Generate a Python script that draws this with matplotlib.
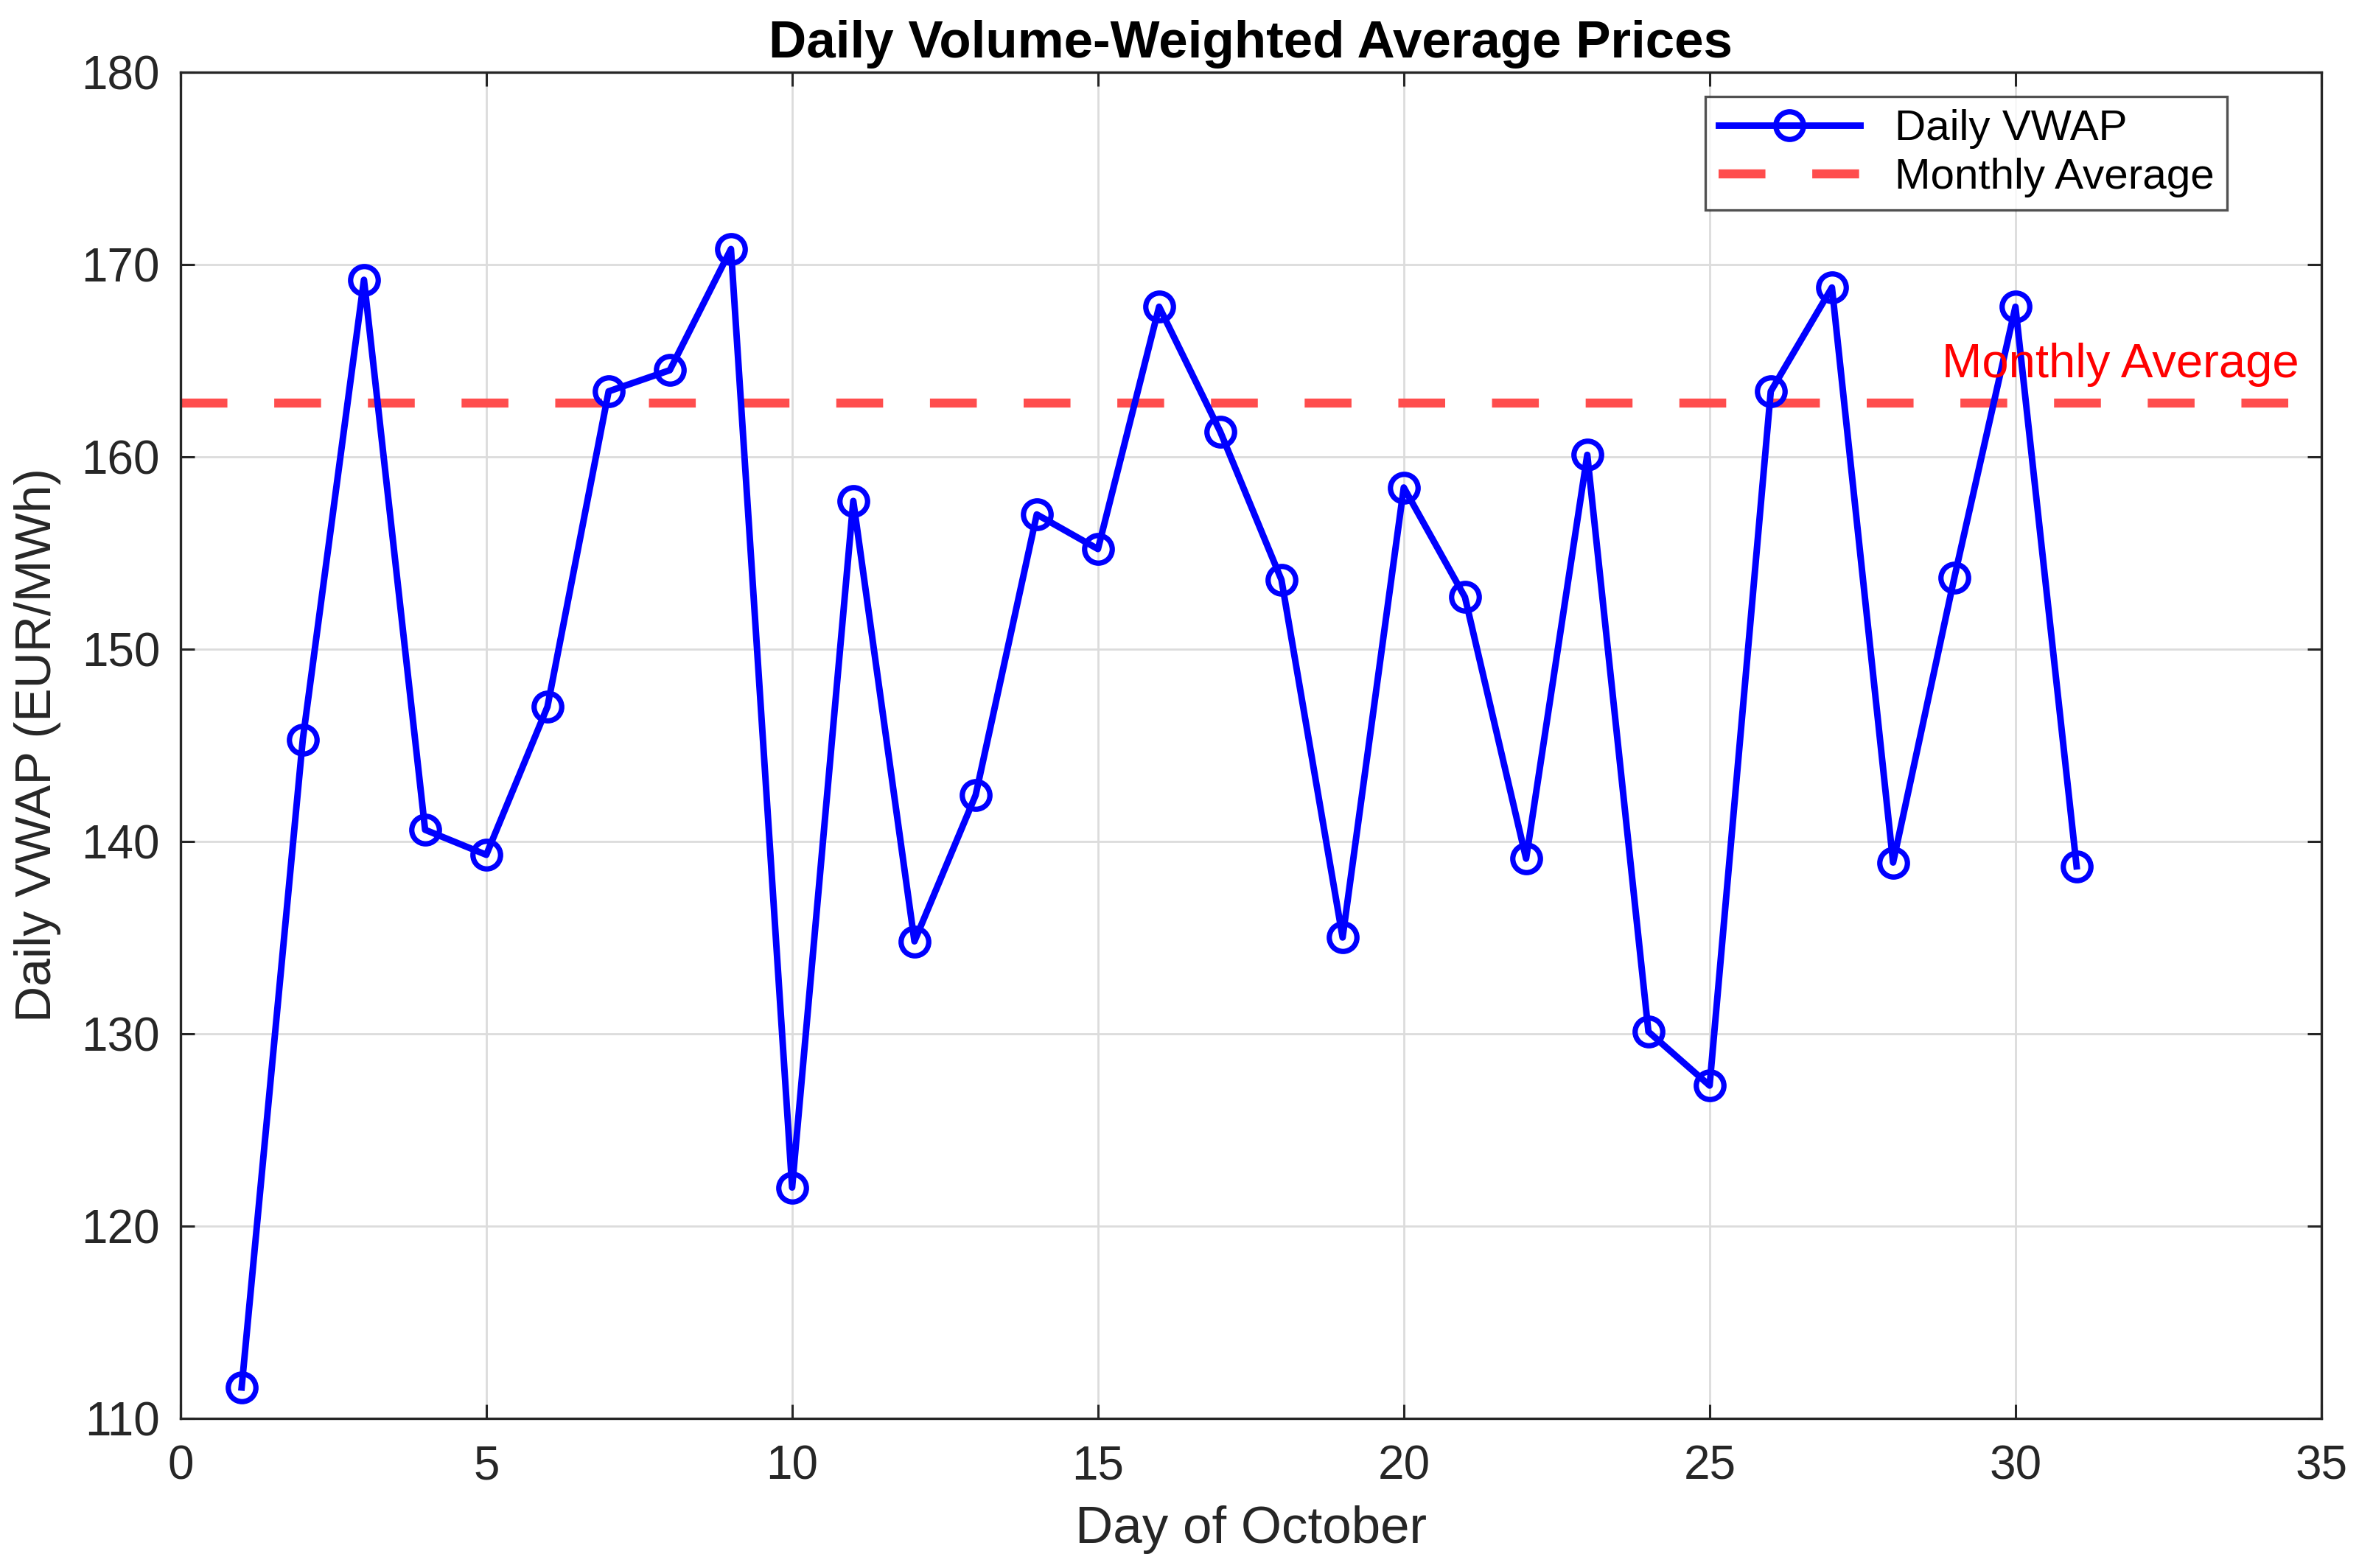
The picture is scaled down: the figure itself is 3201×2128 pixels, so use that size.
import matplotlib
matplotlib.use("Agg")
import matplotlib.pyplot as plt

plt.rcParams["font.family"] = ["Liberation Sans", "DejaVu Sans"]

# values
days = list(range(1, 32))
vwap = [
    111.6, 145.3, 169.2, 140.6, 139.3, 147.0, 163.4, 164.5, 170.8, 122.0,
    157.7, 134.8, 142.4, 157.0, 155.2, 167.8, 161.3, 153.6, 135.0, 158.4,
    152.7, 139.1, 160.1, 130.1, 127.3, 163.4, 168.8, 138.9, 153.7, 167.8,
    138.7,
]
monthly_avg = 162.8

x_ticks = [0, 5, 10, 15, 20, 25, 30, 35]
y_ticks = [110, 120, 130, 140, 150, 160, 170, 180]

BLUE = "#0000FF"
AVG_RED = "#FF4D4D"
AXIS = "#262626"


def main():
    fig = plt.figure(figsize=(16.005, 10.64), dpi=200)
    fig.patch.set_facecolor("white")
    ax = fig.add_axes([0.0765, 0.0955, 0.9075, 0.8585])

    ax.plot(
        days,
        vwap,
        color=BLUE,
        linewidth=3.2,
        marker="o",
        markersize=13.5,
        markerfacecolor="none",
        markeredgecolor=BLUE,
        markeredgewidth=2.6,
        label="Daily VWAP",
        zorder=3,
    )
    ax.axhline(
        monthly_avg,
        color=AVG_RED,
        linewidth=4.4,
        linestyle=(0, (5.2, 5.2)),
        label="Monthly Average",
        zorder=2,
    )
    ax.text(
        28.8,
        monthly_avg + 2.0,
        "Monthly Average",
        color="red",
        fontsize=23.5,
        ha="left",
        va="center",
        zorder=4,
    )

    ax.set_xlim(0, 35)
    ax.set_ylim(110, 180)
    ax.set_xticks(x_ticks)
    ax.set_yticks(y_ticks)
    ax.tick_params(
        direction="in",
        length=7,
        width=1.1,
        color=AXIS,
        labelsize=23,
        labelcolor=AXIS,
        top=True,
        right=True,
    )
    ax.tick_params(axis="x", pad=13)
    ax.tick_params(axis="y", pad=10)
    for spine in ax.spines.values():
        spine.set_color(AXIS)
        spine.set_linewidth(1.2)

    ax.grid(True, color="#DCDCDC", linewidth=1.0)
    ax.set_axisbelow(True)

    ax.set_xlabel("Day of October", fontsize=25.5, color=AXIS, labelpad=8)
    ax.set_ylabel("Daily VWAP (EUR/MWh)", fontsize=24.5, color=AXIS, labelpad=10)
    ax.set_title(
        "Daily Volume-Weighted Average Prices",
        fontsize=25.5,
        fontweight="bold",
        color="black",
        pad=7,
    )

    leg = ax.legend(
        loc="upper right",
        bbox_to_anchor=(0.956, 0.982),
        fontsize=21,
        frameon=True,
        fancybox=False,
        handlelength=3.3,
        borderpad=0.3,
        labelspacing=0.2,
        handletextpad=0.8,
        borderaxespad=0.0,
    )
    leg.get_frame().set_edgecolor(AXIS)
    leg.get_frame().set_linewidth(1.2)

    fig.savefig("out.png", dpi=200, facecolor="white")
    plt.close(fig)


if __name__ == "__main__":
    main()
